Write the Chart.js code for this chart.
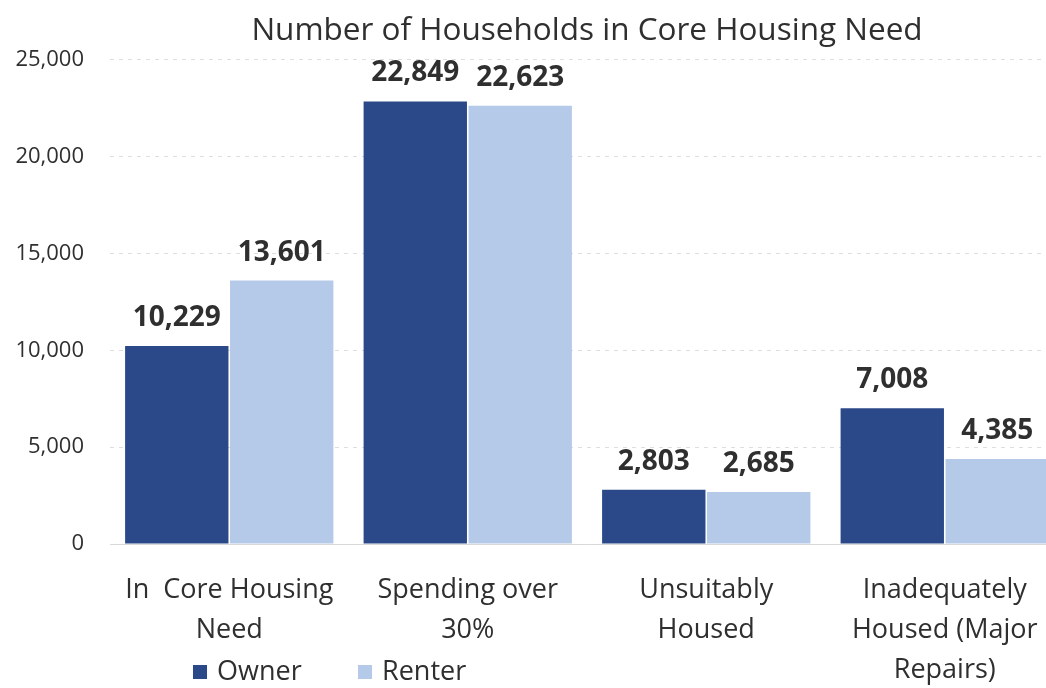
<!DOCTYPE html>
<html>
<head>
	<title>Core Housing Need</title>
	<style>
		html, body {
			margin: 0px;
			padding: 0px;
			width: 1046px;
			height: 688px;
			overflow: hidden;
			background: #ffffff;
		}
		.wrap {
			width: 1064px;
			height: 688px;
		}
	</style>
</head>
<body>
	<div class="wrap">
		<canvas id="chart" width="1064" height="688"></canvas>
	</div>
	<script src="https://cdn.jsdelivr.net/npm/chart.js@4/dist/chart.umd.min.js"></script>
	<script>
		const categories = [
			["In  Core Housing", "Need"],
			["Spending over", "30%"],
			["Unsuitably", "Housed"],
			["Inadequately", "Housed (Major", "Repairs)"]
		];
		const owner = [10229, 22849, 2803, 7008];
		const renter = [13601, 22623, 2685, 4385];
		const yTicks = [0, 5000, 10000, 15000, 20000, 25000];

		const FONT = "'Open Sans', sans-serif";
		const TEXT = "#2f2f2f";
		const fmt = v => v.toLocaleString("en-US");

		// value above each bar
		const barLabels = {
			id: "barLabels",
			afterDatasetsDraw(chart) {
				const ctx = chart.ctx;
				ctx.save();
				ctx.font = "bold 28px " + FONT;
				ctx.fillStyle = TEXT;
				ctx.textAlign = "center";
				ctx.textBaseline = "alphabetic";
				chart.data.datasets.forEach((ds, i) => {
					chart.getDatasetMeta(i).data.forEach((bar, j) => {
						ctx.fillText(fmt(ds.data[j]), bar.x, bar.y - 20);
					});
				});
				ctx.restore();
			}
		};

		// small legend tucked under the first two categories
		const sideLegend = {
			id: "sideLegend",
			afterDraw(chart) {
				const ctx = chart.ctx;
				const spots = [193, 358];
				ctx.save();
				ctx.font = "27px " + FONT;
				ctx.textBaseline = "middle";
				ctx.textAlign = "left";
				chart.data.datasets.forEach((ds, i) => {
					const x = spots[i];
					ctx.fillStyle = ds.backgroundColor;
					ctx.fillRect(x, 665, 14, 14);
					ctx.fillStyle = TEXT;
					ctx.fillText(ds.label, x + 24, 672);
				});
				ctx.restore();
			}
		};

		new Chart(document.getElementById("chart"), {
			type: "bar",
			data: {
				labels: categories,
				datasets: [
					{ label: "Owner", data: owner, backgroundColor: "#2b4989", categoryPercentage: 0.88, barPercentage: 0.985 },
					{ label: "Renter", data: renter, backgroundColor: "#b5c9e8", categoryPercentage: 0.88, barPercentage: 0.985 }
				]
			},
			options: {
				responsive: false,
				animation: false,
				layout: { padding: { left: 12, right: 0, top: 6, bottom: 0 } },
				plugins: {
					legend: { display: false },
					tooltip: { enabled: false },
					title: {
						display: true,
						fullSize: false,
						text: "Number of Households in Core Housing Need",
						color: TEXT,
						font: { family: FONT, size: 31.5, weight: "normal", lineHeight: 1.2 },
						padding: { top: 6, bottom: 10 }
					}
				},
				scales: {
					x: {
						afterFit: axis => { axis.height = 144; },
						grid: { display: false },
						border: { display: true, color: "#d9d9d9" },
						ticks: {
							color: TEXT,
							padding: 18,
							maxRotation: 0,
							autoSkip: false,
							font: { family: FONT, size: 27, lineHeight: 1.48 }
						}
					},
					y: {
						min: 0,
						max: 25000,
						afterBuildTicks: axis => { axis.ticks = yTicks.map(v => ({ value: v })); },
						afterFit: axis => { axis.width = 98; },
						grid: { color: "#dedede", lineWidth: 1, drawTicks: false },
						border: { display: false, dash: [4, 5] },
						ticks: {
							color: TEXT,
							padding: 26,
							font: { family: FONT, size: 22 },
							callback: v => fmt(v)
						}
					}
				}
			},
			plugins: [barLabels, sideLegend]
		});
	</script>
</body>
</html>
